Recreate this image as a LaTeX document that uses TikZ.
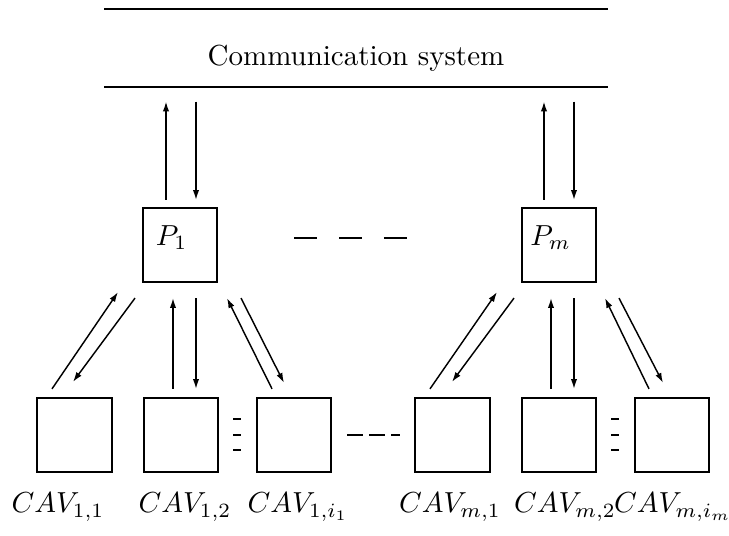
\documentclass[tikz,border=0pt]{standalone}
\usetikzlibrary{arrows.meta,calc}
\begin{document}
\begin{tikzpicture}[x=0.345pt,y=-0.345pt,
  box/.style={draw,line width=0.7pt,minimum size=25.6pt,inner sep=0pt},
  band/.style={minimum width=173.2pt,minimum height=26.2pt,inner sep=0pt},
  bandline/.style={line width=0.7pt},
  arr/.style={line width=0.5pt,-{Latex[length=3.4pt,width=2.2pt]}},
  dashline/.style={line width=0.75pt},
  lbl/.style={anchor=base,inner sep=0pt},
  ptext/.style={label={[xshift=-2.9pt,yshift=2.6pt]center:#1}}]
\useasboundingbox (0,0) rectangle (729,536);
% communication system band
\node[band] (comm) at (356,48) {};
\draw[bandline] (comm.north west) -- (comm.north east);
\draw[bandline] (comm.south west) -- (comm.south east);
\node[lbl] (commtxt) at (356,65) {Communication system};
% processors
\node[box,ptext={$P_1$}] (P1) at (180,245) {};
\node[box,ptext={$P_m$}] (Pm) at (559,245) {};
% vehicles
\node[box] (c11) at (74.5,435) {};
\node[box] (c12) at (181,435) {};
\node[box] (c13) at (294,435) {};
\node[box] (cm1) at (452.5,435) {};
\node[box] (cm2) at (559,435) {};
\node[box] (cm3) at (672,435) {};
% labels
\node[lbl] (l11) at (58,513) {$CAV_{1,1}$};
\node[lbl] (l12) at (185,513) {$CAV_{1,2}$};
\node[lbl] (l13) at (298,513) {$CAV_{1,i_1}$};
\node[lbl] (lm1) at (450,513) {$CAV_{m,1}$};
\node[lbl] (lm2) at (565,513) {$CAV_{m,2}$};
\node[lbl] (lm3) at (673,513) {$CAV_{m,i_m}$};
% processor <-> communication system
\draw[arr] ($(P1.north)+(-14,-7)$) -- ($(P1.north |- comm.south)+(-14,15)$);
\draw[arr] ($(P1.north |- comm.south)+(16,15)$) -- ($(P1.north)+(16,-7)$);
\draw[arr] ($(Pm.north)+(-15,-7)$) -- ($(Pm.north |- comm.south)+(-15,15)$);
\draw[arr] ($(Pm.north |- comm.south)+(15,15)$) -- ($(Pm.north)+(15,-7)$);
% P1 <-> vehicles
\draw[arr] ($(c11.north)+(-22.5,-8)$) -- ($(P1.south)+(-62,9)$);
\draw[arr] ($(P1.south)+(-45,15)$) -- ($(c11.north)+(-1.5,-15)$);
\draw[arr] ($(c12.north)+(-8,-8)$) -- ($(P1.south)+(-7,15)$);
\draw[arr] ($(P1.south)+(16,15)$) -- ($(c12.north)+(15,-8)$);
\draw[arr] ($(c13.north)+(-22,-8)$) -- ($(P1.south)+(47,15)$);
\draw[arr] ($(P1.south)+(61,15)$) -- ($(c13.north)+(-10,-14)$);
% Pm <-> vehicles
\draw[arr] ($(cm1.north)+(-22.5,-8)$) -- ($(Pm.south)+(-62,9)$);
\draw[arr] ($(Pm.south)+(-45,15)$) -- ($(cm1.north)+(-0.5,-15)$);
\draw[arr] ($(cm2.north)+(-8,-8)$) -- ($(Pm.south)+(-8,15)$);
\draw[arr] ($(Pm.south)+(15,15)$) -- ($(cm2.north)+(15,-8)$);
\draw[arr] ($(cm3.north)+(-23,-8)$) -- ($(Pm.south)+(46,15)$);
\draw[arr] ($(Pm.south)+(60,15)$) -- ($(cm3.north)+(-9,-14)$);
% dashes
\draw[dashline,dash pattern=on 7.9pt off 7.6pt] ($(P1.east)+(76,-7)$) -- ($(Pm.west)+(-114,-7)$);
\draw[dashline,dash pattern=on 5.5pt off 2.1pt] ($(c13.east)+(15,0)$) -- ($(cm1.west)+(-14,0)$);
\foreach \n in {c12, cm2}{
  \foreach \dy in {-16,0,15}{
    \draw[line width=0.6pt] ($(\n.east)+(14,\dy)$) -- ($(\n.east)+(22,\dy)$);
  }
}
\end{tikzpicture}
\end{document}
